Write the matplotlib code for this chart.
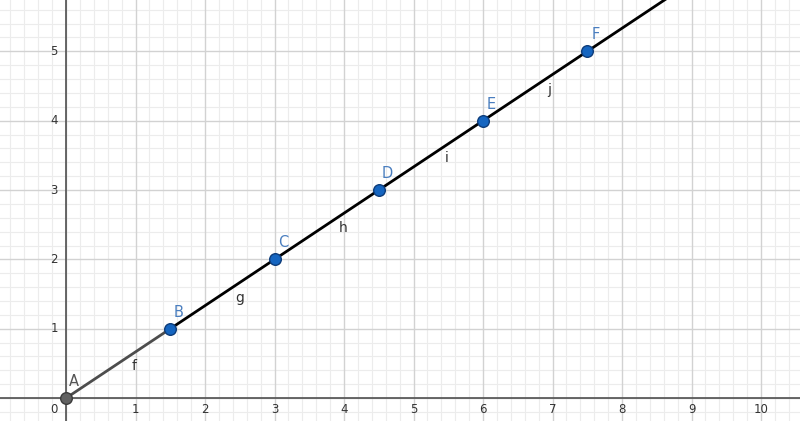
import matplotlib.pyplot as plt
import numpy as np

# points and their labels
point_names = ["A", "B", "C", "D", "E", "F"]
point_x = [0, 1.5, 3, 4.5, 6, 7.5]
point_y = [0, 1, 2, 3, 4, 5]

# segment names and label positions
seg_names = ["f", "g", "h", "i", "j"]
seg_label_x = [0.98, 2.5, 3.99, 5.47, 6.95]
seg_label_y = [0.46, 1.44, 2.45, 3.46, 4.44]

x_ticks = list(range(0, 11))
y_ticks = list(range(1, 6))

xmin, xmax = -0.95, 10.56
ymin, ymax = -0.33, 5.74

fig = plt.figure(figsize=(8, 4.21), dpi=100)
ax = fig.add_axes([0, 0, 1, 1])
ax.set_xlim(xmin, xmax)
ax.set_ylim(ymin, ymax)
ax.axis("off")

# grid
for v in np.arange(-0.8, 10.6, 0.2):
    if abs(v - round(v)) > 1e-6:
        ax.axvline(v, color="#ececec", lw=0.8, zorder=0)
for v in np.arange(-0.2, 5.8, 0.2):
    if abs(v - round(v)) > 1e-6:
        ax.axhline(v, color="#ececec", lw=0.8, zorder=0)
for v in range(-0, 11):
    ax.axvline(v, color="#d2d2d2", lw=1.0, zorder=1)
for v in range(0, 6):
    ax.axhline(v, color="#d2d2d2", lw=1.0, zorder=1)

# axes
ax.axhline(0, color="#505050", lw=1.2, zorder=2)
ax.axvline(0, color="#505050", lw=1.2, zorder=2)

# tick labels
for t in x_ticks:
    lx = t if t != 0 else -0.17
    ax.text(lx, -0.17, str(t), ha="center", va="center", fontsize=8.5, color="#333333")
for t in y_ticks:
    ax.text(-0.17, t, str(t), ha="center", va="center", fontsize=8.5, color="#333333")

# segment f (gray) and the black line through B..F
ax.plot(point_x[:2], point_y[:2], color="#4d4d4d", lw=2, zorder=3, solid_capstyle="butt")
slope = (point_y[-1] - point_y[1]) / (point_x[-1] - point_x[1])
x_end = point_x[1] + (ymax + 0.1 - point_y[1]) / slope
ax.plot([point_x[1], x_end], [point_y[1], point_y[1] + slope * (x_end - point_x[1])],
        color="black", lw=2, zorder=3)

for name, lx, ly in zip(seg_names, seg_label_x, seg_label_y):
    ax.text(lx, ly, name, ha="center", va="center", fontsize=10, color="#333333")

# points
ax.scatter(point_x[:1], point_y[:1], s=70, color="#616161", edgecolor="#3a3a3a",
           linewidth=1, zorder=5)
ax.scatter(point_x[1:], point_y[1:], s=70, color="#1565c0", edgecolor="#0d3c7a",
           linewidth=1, zorder=5)
for i, (name, px, py) in enumerate(zip(point_names, point_x, point_y)):
    col = "#555555" if i == 0 else "#4a7ebf"
    ax.text(px + 0.12, py + 0.24, name, ha="center", va="center", fontsize=10.5, color=col)

fig.savefig("out.png", dpi=100)
